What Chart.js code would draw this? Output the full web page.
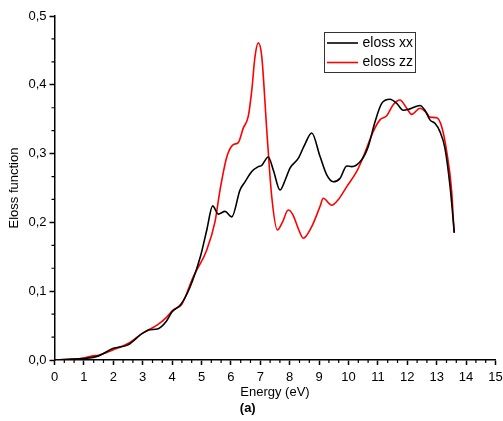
<!DOCTYPE html>
<html>
<head>
<meta charset="utf-8">
<script src="https://cdn.jsdelivr.net/npm/chart.js@4.4.0/dist/chart.umd.min.js"></script>
<style>
  body { margin: 0; background: #fff; }
  canvas { display: block; }
</style>
</head>
<body>
<canvas id="eloss-chart" width="503" height="421"></canvas>
<script>
// Data eloss xx (hitam)
const energyXX = [0, 0.5, 1.0, 1.5, 2.0, 2.5, 3.0, 3.25, 3.5, 3.8, 4.0, 4.3, 4.6, 4.96, 5.18, 5.38, 5.57, 5.8, 6.03, 6.31, 6.48, 6.71, 6.93, 7.05, 7.27, 7.45, 7.67, 7.85, 8.01, 8.29, 8.5, 8.75, 9.03, 9.26, 9.48, 9.71, 9.94, 10.11, 10.45, 10.67, 10.9, 11.13, 11.41, 11.64, 11.86, 12.09, 12.43, 12.6, 12.77, 12.94, 13.11, 13.28, 13.45, 13.6];
const elossXX = [0.000, 0.001, 0.002, 0.006, 0.017, 0.022, 0.039, 0.044, 0.045, 0.056, 0.070, 0.081, 0.105, 0.150, 0.189, 0.224, 0.212, 0.216, 0.208, 0.247, 0.259, 0.274, 0.281, 0.283, 0.295, 0.275, 0.247, 0.262, 0.279, 0.293, 0.312, 0.330, 0.296, 0.269, 0.259, 0.264, 0.282, 0.281, 0.291, 0.310, 0.346, 0.373, 0.379, 0.373, 0.363, 0.365, 0.370, 0.363, 0.349, 0.344, 0.332, 0.308, 0.254, 0.185];

// Data eloss zz (merah)
const energyZZ = [0, 0.5, 1.0, 1.3, 1.5, 2.0, 2.5, 3.0, 3.5, 3.81, 4.04, 4.33, 4.72, 5.18, 5.46, 5.63, 5.86, 6.08, 6.25, 6.42, 6.59, 6.71, 6.82, 6.93, 7.05, 7.22, 7.39, 7.58, 7.75, 7.95, 8.11, 8.3, 8.46, 8.75, 9.03, 9.14, 9.43, 9.65, 9.94, 10.28, 10.5, 10.84, 11.07, 11.3, 11.52, 11.75, 11.98, 12.15, 12.43, 12.66, 12.77, 13.0, 13.17, 13.34, 13.51, 13.59];
const elossZZ = [0.000, 0.001, 0.003, 0.006, 0.007, 0.015, 0.024, 0.039, 0.051, 0.062, 0.073, 0.081, 0.121, 0.160, 0.201, 0.247, 0.295, 0.313, 0.316, 0.337, 0.354, 0.392, 0.441, 0.461, 0.441, 0.334, 0.237, 0.189, 0.200, 0.218, 0.211, 0.190, 0.177, 0.194, 0.223, 0.235, 0.225, 0.233, 0.252, 0.274, 0.295, 0.332, 0.349, 0.355, 0.371, 0.378, 0.366, 0.357, 0.366, 0.359, 0.353, 0.352, 0.339, 0.303, 0.245, 0.185];

const seriesLabels = ['eloss xx', 'eloss zz'];
const seriesColors = ['#000000', '#ff0000'];

const xMin = 0, xMax = 15, xStep = 1;
const yMin = 0, yMax = 0.5, yStep = 0.1;

function toPoints(xs, ys) {
    return xs.map((x, i) => ({ x: x, y: ys[i] }));
}

Chart.defaults.font.family = "'Liberation Sans', Arial, sans-serif";
Chart.defaults.font.size = 13;
Chart.defaults.color = '#000';

// Minor ticks (2 di antara tiap major tick)
const minorTicks = {
    id: 'minorTicks',
    afterDraw(chart) {
        const ctx = chart.ctx;
        const xs = chart.scales.x;
        const ys = chart.scales.y;
        const area = chart.chartArea;
        ctx.save();
        ctx.strokeStyle = '#000';
        ctx.lineWidth = 1.2;
        ctx.beginPath();
        for (let v = xMin; v < xMax; v += xStep) {
            for (let k = 1; k < 3; k++) {
                const px = xs.getPixelForValue(v + k * xStep / 3);
                ctx.moveTo(px, area.bottom);
                ctx.lineTo(px, area.bottom + 3);
            }
        }
        for (let v = yMin; v < yMax - 1e-9; v += yStep) {
            for (let k = 1; k < 3; k++) {
                const py = ys.getPixelForValue(v + k * yStep / 3);
                ctx.moveTo(area.left, py);
                ctx.lineTo(area.left - 3, py);
            }
        }
        ctx.stroke();
        ctx.restore();
    }
};

// Legend kotak di dalam plot
const boxLegend = {
    id: 'boxLegend',
    afterDraw(chart) {
        const ctx = chart.ctx;
        ctx.save();
        ctx.strokeStyle = '#333';
        ctx.lineWidth = 1;
        ctx.strokeRect(324.5, 32.5, 91, 40);
        ctx.font = "14px 'Liberation Sans', Arial, sans-serif";
        ctx.textBaseline = 'middle';
        ctx.fillStyle = '#000';
        chart.data.datasets.forEach((ds, i) => {
            const y = 43 + i * 19.5;
            ctx.strokeStyle = ds.borderColor;
            ctx.lineWidth = 1.6;
            ctx.beginPath();
            ctx.moveTo(327, y);
            ctx.lineTo(358, y);
            ctx.stroke();
            ctx.fillText(ds.label, 362.5, y);
        });
        ctx.restore();
    }
};

new Chart(document.getElementById('eloss-chart'), {
    type: 'line',
    data: {
        datasets: [{
                label: seriesLabels[0],
                data: toPoints(energyXX, elossXX),
                borderColor: seriesColors[0],
                backgroundColor: seriesColors[0],
                borderWidth: 1.6,
                pointRadius: 0,
                cubicInterpolationMode: 'monotone',
                fill: false
            },
            {
                label: seriesLabels[1],
                data: toPoints(energyZZ, elossZZ),
                borderColor: seriesColors[1],
                backgroundColor: seriesColors[1],
                borderWidth: 1.6,
                pointRadius: 0,
                cubicInterpolationMode: 'monotone',
                fill: false
            }
        ]
    },
    options: {
        responsive: false,
        animation: false,
        layout: {
            padding: { left: 0, right: 7.5, top: 16, bottom: 0 }
        },
        plugins: {
            legend: { display: false },
            tooltip: { enabled: false },
            title: {
                display: true,
                text: '(a)',
                position: 'bottom',
                font: { size: 13, weight: 'bold' },
                color: '#000',
                padding: { top: 0, bottom: 5 }
            }
        },
        scales: {
            x: {
                type: 'linear',
                min: xMin,
                max: xMax,
                afterFit: (scale) => {
                    scale.height = 40.4;
                    scale.paddingLeft = 0;
                    scale.paddingRight = 0;
                },
                ticks: { stepSize: xStep, padding: 5, color: '#000', maxRotation: 0 },
                grid: { drawOnChartArea: false, tickLength: 5, color: '#000', tickWidth: 1.5 },
                border: { color: '#000', width: 1.5 },
                title: { display: true, text: 'Energy (eV)', color: '#000', padding: { top: 0, bottom: 0 } }
            },
            y: {
                min: yMin,
                max: yMax,
                afterFit: (scale) => {
                    scale.width = 54.5;
                    scale.paddingTop = 0;
                    scale.paddingBottom = 0;
                },
                ticks: {
                    stepSize: yStep,
                    padding: 3,
                    color: '#000',
                    callback: (v) => v.toFixed(1).replace('.', ',')
                },
                grid: { drawOnChartArea: false, tickLength: 5, color: '#000', tickWidth: 1.5 },
                border: { color: '#000', width: 1.5 },
                title: { display: true, text: 'Eloss function', color: '#000', padding: { top: 7, bottom: 0 } }
            }
        }
    },
    plugins: [minorTicks, boxLegend]
});
</script>
</body>
</html>
